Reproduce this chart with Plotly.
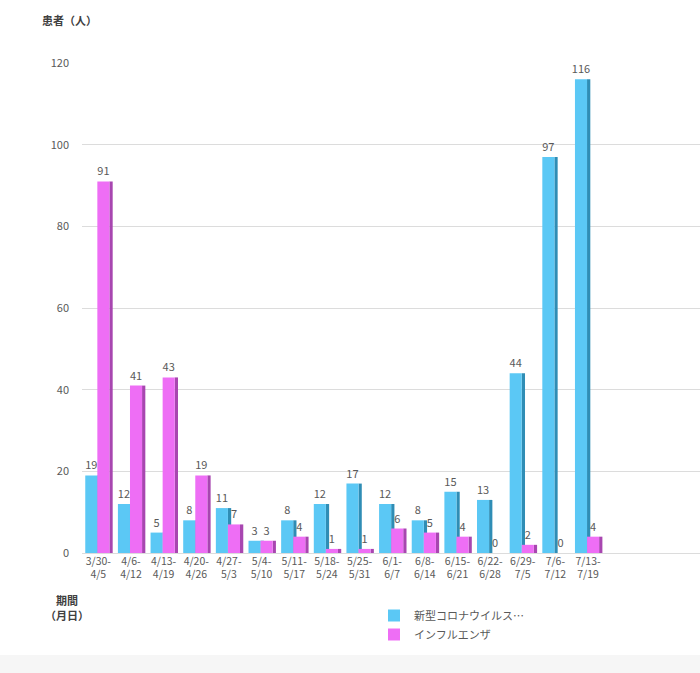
import plotly.graph_objects as go

categories = ["3/30-<br>4/5", "4/6-<br>4/12", "4/13-<br>4/19", "4/20-<br>4/26", "4/27-<br>5/3",
              "5/4-<br>5/10", "5/11-<br>5/17", "5/18-<br>5/24", "5/25-<br>5/31", "6/1-<br>6/7",
              "6/8-<br>6/14", "6/15-<br>6/21", "6/22-<br>6/28", "6/29-<br>7/5", "7/6-<br>7/12",
              "7/13-<br>7/19"]
covid = [19, 12, 5, 8, 11, 3, 8, 12, 17, 12, 8, 15, 13, 44, 97, 116]
flu = [91, 41, 43, 19, 7, 3, 4, 1, 1, 6, 5, 4, 0, 2, 0, 4]
series_names = ["新型コロナウイルス…", "インフルエンザ"]
y_ticks = [0, 20, 40, 60, 80, 100, 120]

FONT = "Noto Sans CJK JP, Noto Sans, sans-serif"
GREY = "#595959"

fig = go.Figure()
# side faces (3D look)
fig.add_trace(go.Bar(x=categories, y=covid, width=0.1, offset=-0.03, marker=dict(color="#2f8db5", line=dict(width=0)),
                     showlegend=False, hoverinfo="skip"))
fig.add_trace(go.Bar(x=categories, y=covid, width=0.37, offset=-0.40, name=series_names[0],
                     marker=dict(color="#5bc8f5", line=dict(width=0)),
                     text=covid, textposition="outside", constraintext="none",
                     textfont=dict(color=GREY, size=11, family=FONT), cliponaxis=False))
fig.add_trace(go.Bar(x=categories, y=flu, width=0.1, offset=0.34, marker=dict(color="#a846b0", line=dict(width=0)),
                     showlegend=False, hoverinfo="skip"))
fig.add_trace(go.Bar(x=categories, y=flu, width=0.37, offset=-0.03, name=series_names[1],
                     marker=dict(color="#ee6ef5", line=dict(width=0)),
                     text=flu, textposition="outside", constraintext="none",
                     textfont=dict(color=GREY, size=11, family=FONT), cliponaxis=False))

fig.update_layout(
    width=700, height=673,
    barmode="overlay",
    paper_bgcolor="#f6f6f6",
    plot_bgcolor="rgba(0,0,0,0)",
    margin=dict(l=82, r=0, t=63, b=120),
    font=dict(family=FONT, color=GREY, size=11),
    xaxis=dict(range=[-0.5, 18.43], tickfont=dict(size=10.5, color=GREY), showgrid=False,
               showline=False, ticks="", tickangle=0),
    yaxis=dict(range=[0, 120], tickvals=y_ticks, showgrid=True, gridcolor="#dcdcdc", gridwidth=1,
               zeroline=True, zerolinecolor="#dcdcdc", zerolinewidth=1, tickfont=dict(size=11, color=GREY),
               ticks="", ticklabelstandoff=12),
    legend=dict(x=(374 - 82) / 618, y=-48 / 490, xanchor="left", yanchor="top", orientation="v",
                font=dict(size=11, color=GREY), bgcolor="rgba(0,0,0,0)", tracegroupgap=0,
                itemwidth=30),
    shapes=[dict(type="rect", xref="paper", yref="paper", x0=-82/618, x1=1, y0=-102/490, y1=63/490 + 1,
                 fillcolor="white", line=dict(width=0), layer="below")],
    annotations=[
        dict(text="<b>患者（人）</b>", xref="paper", yref="paper", x=-42/618, y=1 + 43/490,
             xanchor="left", yanchor="middle", showarrow=False, font=dict(size=11, color="#404040")),
        dict(text="<b>期間</b>", xref="paper", yref="paper", x=-15/618, y=-47/490,
             xanchor="center", yanchor="middle", showarrow=False,
             font=dict(size=11, color="#404040")),
        dict(text="<b>（月日）</b>", xref="paper", yref="paper", x=-15/618, y=-62/490,
             xanchor="center", yanchor="middle", showarrow=False,
             font=dict(size=11, color="#404040")),
    ],
)

fig.write_html("out.html")
